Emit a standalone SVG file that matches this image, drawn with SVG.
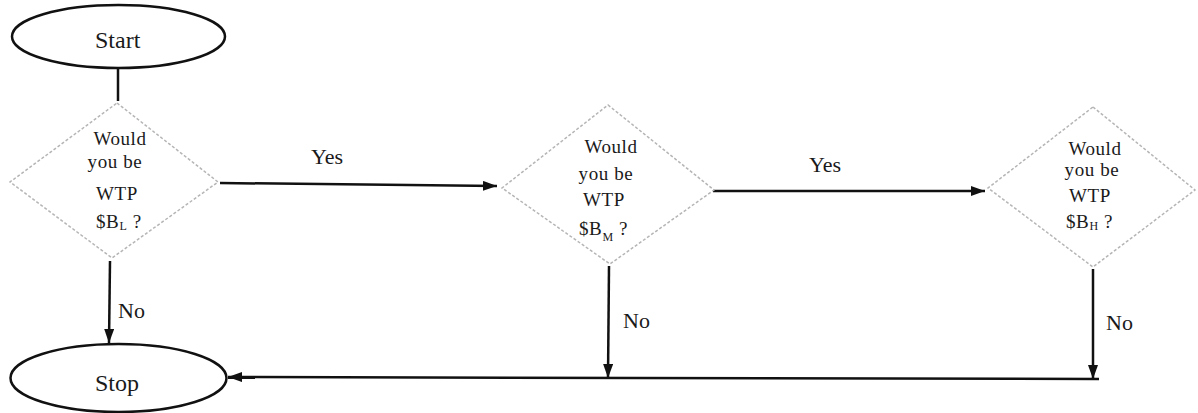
<svg xmlns="http://www.w3.org/2000/svg" width="1198" height="413" viewBox="0 0 1198 413">
  <style>
    .bg { fill: #ffffff; }
    .term { fill: #ffffff; stroke: #111111; stroke-width: 2.5; }
    .decision { fill: #ffffff; stroke: #b5b5b5; stroke-width: 1.5; stroke-dasharray: 3 2; }
    .edge { fill: none; stroke: #111111; stroke-width: 2.5; }
    .lbl { font-family: "Liberation Serif", "Times New Roman", serif; fill: #1a1a1a; }
    .big { font-size: 24px; }
    .edge-lbl { font-size: 22px; }
    .q { font-size: 19px; letter-spacing: 0.6px; text-anchor: middle; }
    .q.bid { text-anchor: start; }
    .sub { font-size: 12px; }
  </style>
  <defs>
    <marker id="arrow" viewBox="0 0 14 10" refX="14" refY="5" markerWidth="14" markerHeight="10" markerUnits="userSpaceOnUse" orient="auto">
      <path d="M0,0 L14,5 L0,10 z" fill="#111111"/>
    </marker>
  </defs>

  <rect class="bg" x="0" y="0" width="1198" height="413"/>

  <!-- connectors -->
  <g id="connectors">
    <line class="edge" x1="118" y1="68" x2="118" y2="101"/>
    <line class="edge" x1="220" y1="183" x2="497" y2="186" marker-end="url(#arrow)"/>
    <line class="edge" x1="713" y1="191" x2="985" y2="191" marker-end="url(#arrow)"/>
    <line class="edge" x1="110" y1="261" x2="109" y2="343" marker-end="url(#arrow)"/>
    <line class="edge" x1="609" y1="266" x2="608" y2="378" marker-end="url(#arrow)"/>
    <line class="edge" x1="1093" y1="269" x2="1093" y2="379" marker-end="url(#arrow)"/>
    <line class="edge" x1="1099" y1="379" x2="228" y2="377" marker-end="url(#arrow)"/>
    <text class="lbl edge-lbl" x="311" y="164">Yes</text>
    <text class="lbl edge-lbl" x="809" y="172">Yes</text>
    <text class="lbl edge-lbl" x="118" y="318">No</text>
    <text class="lbl edge-lbl" x="623" y="328">No</text>
    <text class="lbl edge-lbl" x="1106" y="330">No</text>
  </g>

  <!-- start terminal -->
  <g id="start">
    <ellipse class="term" cx="118.5" cy="36.5" rx="106.5" ry="31.5"/>
    <text class="lbl big" x="95" y="48">Start</text>
  </g>

  <!-- stop terminal -->
  <g id="stop">
    <ellipse class="term" cx="118.5" cy="378" rx="108" ry="34"/>
    <text class="lbl big" x="95" y="391">Stop</text>
  </g>

  <!-- decision: low bid -->
  <g id="ask-low">
    <polygon class="decision" points="117,103 218,182 112,258 10,182"/>
    <text class="lbl q" x="120" y="145">Would</text>
    <text class="lbl q" x="115" y="168">you be</text>
    <text class="lbl q" x="117" y="200">WTP</text>
    <text class="lbl q bid" x="96" y="228">$B<tspan class="sub" dy="2">L</tspan><tspan dy="-2"> ?</tspan></text>
  </g>

  <!-- decision: medium bid -->
  <g id="ask-mid">
    <polygon class="decision" points="608,105 714,190 610,264 502,188"/>
    <text class="lbl q" x="611" y="153">Would</text>
    <text class="lbl q" x="606" y="180">you be</text>
    <text class="lbl q" x="604" y="206">WTP</text>
    <text class="lbl q bid" x="579" y="235">$B<tspan class="sub" dy="6">M</tspan><tspan dy="-6"> ?</tspan></text>
  </g>

  <!-- decision: high bid -->
  <g id="ask-high">
    <polygon class="decision" points="1093,107 1195,190 1093,267 988,188"/>
    <text class="lbl q" x="1095" y="155">Would</text>
    <text class="lbl q" x="1092" y="176">you be</text>
    <text class="lbl q" x="1090" y="202">WTP</text>
    <text class="lbl q bid" x="1066" y="228">$B<tspan class="sub" dy="2">H</tspan><tspan dy="-2"> ?</tspan></text>
  </g>
</svg>
